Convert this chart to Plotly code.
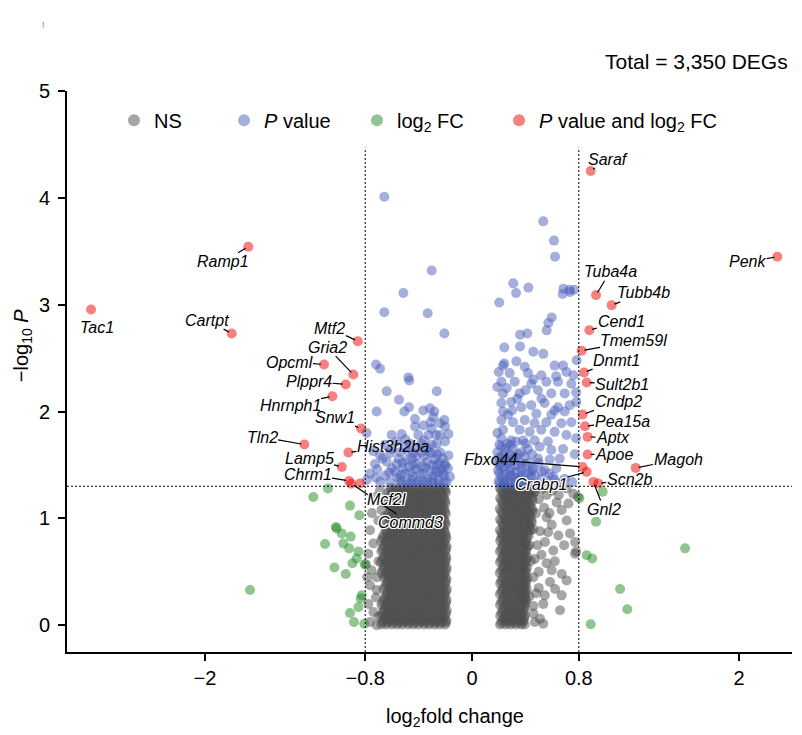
import math
import plotly.graph_objects as go

FONT = "Liberation Sans, Arial, Helvetica, sans-serif"

# ---------------- thresholds ----------------
fc_cut = 0.8
p_cut = 0.05
total_degs = "3,350"

# ---------------- NS genes (grey) : dense cores read row by row ----------------
ns_rows_left = [
    (1.285, [-0.612, -0.571, -0.533, -0.488, -0.452, -0.409, -0.372, -0.331, -0.289, -0.252, -0.208]),
    (1.262, [-0.600, -0.561, -0.519, -0.480, -0.441, -0.399, -0.360, -0.320, -0.281, -0.239, -0.200]),
    (1.240, [-0.628, -0.590, -0.548, -0.511, -0.469, -0.431, -0.392, -0.350, -0.309, -0.271, -0.229, -0.196]),
    (1.215, [-0.620, -0.579, -0.541, -0.500, -0.459, -0.421, -0.380, -0.339, -0.301, -0.260, -0.219]),
    (1.190, [-0.605, -0.566, -0.527, -0.490, -0.448, -0.411, -0.369, -0.330, -0.292, -0.249, -0.212]),
    (1.165, [-0.598, -0.559, -0.521, -0.478, -0.440, -0.401, -0.358, -0.321, -0.279, -0.241, -0.201]),
    (1.140, [-0.631, -0.588, -0.552, -0.509, -0.472, -0.428, -0.389, -0.352, -0.311, -0.268, -0.231, -0.199]),
    (1.115, [-0.619, -0.581, -0.539, -0.501, -0.461, -0.419, -0.381, -0.341, -0.299, -0.261, -0.221]),
    (1.090, [-0.609, -0.570, -0.529, -0.492, -0.451, -0.408, -0.371, -0.329, -0.290, -0.251, -0.209]),
    (1.065, [-0.601, -0.560, -0.520, -0.481, -0.439, -0.400, -0.361, -0.319, -0.280, -0.240, -0.202]),
    (1.040, [-0.627, -0.592, -0.549, -0.508, -0.470, -0.432, -0.390, -0.348, -0.312, -0.270, -0.228, -0.197]),
    (1.015, [-0.621, -0.580, -0.540, -0.499, -0.460, -0.420, -0.379, -0.340, -0.300, -0.259, -0.220]),
    (0.990, [-0.614, -0.568, -0.531, -0.489, -0.449, -0.412, -0.368, -0.332, -0.288, -0.250, -0.211]),
    (0.965, [-0.599, -0.562, -0.518, -0.479, -0.442, -0.398, -0.359, -0.321, -0.282, -0.238, -0.199]),
    (0.940, [-0.633, -0.589, -0.551, -0.512, -0.468, -0.429, -0.391, -0.351, -0.309, -0.272, -0.230, -0.198]),
    (0.915, [-0.618, -0.578, -0.542, -0.501, -0.458, -0.422, -0.379, -0.338, -0.302, -0.259, -0.218]),
    (0.890, [-0.648, -0.608, -0.569, -0.530, -0.491, -0.450, -0.410, -0.370, -0.331, -0.291, -0.249, -0.210]),
    (0.865, [-0.640, -0.599, -0.560, -0.520, -0.480, -0.440, -0.400, -0.361, -0.320, -0.280, -0.240, -0.201]),
    (0.840, [-0.664, -0.628, -0.590, -0.549, -0.510, -0.471, -0.428, -0.392, -0.349, -0.311, -0.268, -0.231, -0.196]),
    (0.815, [-0.670, -0.630, -0.589, -0.551, -0.510, -0.470, -0.431, -0.389, -0.350, -0.311, -0.270, -0.229, -0.192]),
    (0.790, [-0.681, -0.641, -0.602, -0.560, -0.522, -0.480, -0.441, -0.402, -0.360, -0.321, -0.282, -0.240, -0.203]),
    (0.765, [-0.650, -0.611, -0.570, -0.529, -0.491, -0.450, -0.409, -0.371, -0.330, -0.289, -0.251, -0.210]),
    (0.740, [-0.662, -0.619, -0.581, -0.541, -0.500, -0.462, -0.420, -0.381, -0.342, -0.300, -0.261, -0.222, -0.191]),
    (0.715, [-0.671, -0.629, -0.590, -0.550, -0.511, -0.469, -0.430, -0.390, -0.351, -0.310, -0.269, -0.230, -0.193]),
    (0.690, [-0.679, -0.638, -0.601, -0.558, -0.519, -0.481, -0.439, -0.400, -0.361, -0.319, -0.280, -0.241, -0.202]),
    (0.665, [-0.649, -0.610, -0.571, -0.530, -0.489, -0.451, -0.410, -0.369, -0.331, -0.290, -0.250, -0.211]),
    (0.640, [-0.660, -0.622, -0.579, -0.542, -0.498, -0.460, -0.421, -0.379, -0.340, -0.302, -0.259, -0.220, -0.193]),
    (0.615, [-0.669, -0.631, -0.588, -0.549, -0.509, -0.471, -0.429, -0.391, -0.349, -0.309, -0.271, -0.228, -0.194]),
    (0.590, [-0.683, -0.640, -0.599, -0.561, -0.520, -0.479, -0.442, -0.399, -0.362, -0.320, -0.279, -0.242, -0.201]),
    (0.565, [-0.651, -0.609, -0.569, -0.531, -0.490, -0.449, -0.411, -0.370, -0.329, -0.291, -0.249, -0.209]),
    (0.540, [-0.661, -0.620, -0.582, -0.539, -0.501, -0.459, -0.419, -0.382, -0.339, -0.299, -0.262, -0.219, -0.190]),
    (0.515, [-0.670, -0.629, -0.591, -0.550, -0.509, -0.470, -0.430, -0.390, -0.350, -0.310, -0.270, -0.231, -0.193]),
    (0.490, [-0.678, -0.642, -0.600, -0.559, -0.521, -0.482, -0.440, -0.401, -0.359, -0.322, -0.281, -0.239, -0.204]),
    (0.465, [-0.649, -0.611, -0.570, -0.530, -0.491, -0.451, -0.409, -0.371, -0.330, -0.289, -0.250, -0.210]),
    (0.440, [-0.659, -0.621, -0.580, -0.540, -0.499, -0.461, -0.422, -0.380, -0.341, -0.298, -0.260, -0.221, -0.192]),
    (0.415, [-0.630, -0.590, -0.551, -0.511, -0.470, -0.429, -0.391, -0.350, -0.311, -0.269, -0.230, -0.194]),
    (0.390, [-0.639, -0.598, -0.562, -0.518, -0.478, -0.441, -0.398, -0.360, -0.321, -0.278, -0.240, -0.200]),
    (0.365, [-0.650, -0.609, -0.571, -0.529, -0.490, -0.450, -0.410, -0.370, -0.329, -0.290, -0.251, -0.211]),
    (0.340, [-0.663, -0.618, -0.581, -0.538, -0.502, -0.458, -0.420, -0.379, -0.342, -0.301, -0.259, -0.222, -0.189]),
    (0.315, [-0.631, -0.590, -0.549, -0.510, -0.471, -0.430, -0.389, -0.351, -0.310, -0.270, -0.229, -0.195]),
    (0.290, [-0.641, -0.601, -0.558, -0.519, -0.480, -0.439, -0.402, -0.358, -0.320, -0.282, -0.238, -0.203]),
    (0.265, [-0.649, -0.610, -0.569, -0.531, -0.489, -0.450, -0.411, -0.369, -0.330, -0.291, -0.249, -0.210]),
    (0.240, [-0.658, -0.622, -0.579, -0.541, -0.500, -0.462, -0.418, -0.381, -0.339, -0.300, -0.261, -0.220, -0.191]),
    (0.215, [-0.670, -0.630, -0.590, -0.549, -0.511, -0.470, -0.429, -0.390, -0.351, -0.309, -0.270, -0.230, -0.194]),
    (0.190, [-0.679, -0.640, -0.602, -0.560, -0.521, -0.479, -0.442, -0.400, -0.361, -0.318, -0.280, -0.241, -0.201]),
    (0.165, [-0.651, -0.609, -0.571, -0.529, -0.490, -0.451, -0.409, -0.371, -0.329, -0.290, -0.250, -0.209]),
    (0.140, [-0.661, -0.619, -0.582, -0.539, -0.498, -0.460, -0.421, -0.382, -0.340, -0.302, -0.258, -0.221, -0.190]),
    (0.115, [-0.669, -0.630, -0.589, -0.551, -0.509, -0.469, -0.431, -0.389, -0.350, -0.311, -0.269, -0.229, -0.193]),
    (0.090, [-0.680, -0.638, -0.600, -0.561, -0.520, -0.481, -0.440, -0.399, -0.362, -0.319, -0.281, -0.239, -0.202]),
    (0.068, [-0.650, -0.610, -0.570, -0.530, -0.490, -0.449, -0.410, -0.370, -0.330, -0.289, -0.251, -0.211]),
    (0.045, [-0.662, -0.621, -0.580, -0.542, -0.499, -0.459, -0.420, -0.380, -0.341, -0.299, -0.260, -0.222, -0.192]),
    (0.026, [-0.671, -0.631, -0.590, -0.550, -0.510, -0.471, -0.430, -0.391, -0.350, -0.310, -0.270, -0.231, -0.195]),
    (0.008, [-0.679, -0.641, -0.599, -0.559, -0.522, -0.478, -0.441, -0.401, -0.359, -0.321, -0.279, -0.240, -0.201]),
]

ns_rows_right = [
    (1.285, [0.209, 0.249, 0.290, 0.331, 0.369, 0.410, 0.448]),
    (1.262, [0.219, 0.259, 0.300, 0.340, 0.380, 0.420, 0.455]),
    (1.240, [0.228, 0.270, 0.309, 0.350, 0.391, 0.430, 0.462]),
    (1.215, [0.238, 0.279, 0.320, 0.360, 0.399, 0.438]),
    (1.190, [0.211, 0.250, 0.288, 0.329, 0.371, 0.409, 0.451]),
    (1.165, [0.220, 0.260, 0.299, 0.341, 0.381, 0.419, 0.454]),
    (1.140, [0.230, 0.268, 0.311, 0.349, 0.390, 0.428]),
    (1.115, [0.239, 0.280, 0.319, 0.361, 0.400, 0.437]),
    (1.090, [0.208, 0.251, 0.291, 0.330, 0.368, 0.411, 0.449]),
    (1.065, [0.219, 0.261, 0.301, 0.339, 0.379, 0.421, 0.452]),
    (1.040, [0.229, 0.269, 0.308, 0.351, 0.389, 0.431]),
    (1.015, [0.240, 0.279, 0.321, 0.359, 0.401, 0.436]),
    (0.990, [0.210, 0.248, 0.289, 0.332, 0.370, 0.408, 0.446]),
    (0.965, [0.221, 0.259, 0.300, 0.340, 0.381, 0.420, 0.447]),
    (0.940, [0.231, 0.270, 0.310, 0.348, 0.392, 0.429]),
    (0.915, [0.239, 0.281, 0.320, 0.359, 0.399, 0.432]),
    (0.890, [0.209, 0.250, 0.291, 0.329, 0.369, 0.412, 0.440]),
    (0.865, [0.220, 0.259, 0.301, 0.341, 0.380, 0.418]),
    (0.840, [0.228, 0.271, 0.309, 0.350, 0.388, 0.425]),
    (0.815, [0.219, 0.260, 0.299, 0.341, 0.379, 0.410]),
    (0.790, [0.211, 0.249, 0.288, 0.331, 0.371, 0.405]),
    (0.765, [0.239, 0.280, 0.319, 0.360, 0.396]),
    (0.740, [0.230, 0.269, 0.311, 0.349, 0.390, 0.418]),
    (0.715, [0.220, 0.259, 0.300, 0.340, 0.381, 0.408]),
    (0.690, [0.209, 0.251, 0.290, 0.330, 0.369, 0.402]),
    (0.665, [0.240, 0.281, 0.320, 0.359, 0.397]),
    (0.640, [0.229, 0.268, 0.309, 0.351, 0.389, 0.415]),
    (0.615, [0.219, 0.260, 0.299, 0.339, 0.380, 0.405]),
    (0.590, [0.210, 0.250, 0.289, 0.328, 0.370, 0.403]),
    (0.565, [0.239, 0.279, 0.321, 0.360, 0.395]),
    (0.540, [0.231, 0.270, 0.310, 0.349, 0.387, 0.412]),
    (0.515, [0.220, 0.261, 0.300, 0.341, 0.379, 0.404]),
    (0.490, [0.208, 0.249, 0.291, 0.331, 0.368, 0.401]),
    (0.465, [0.240, 0.280, 0.319, 0.361, 0.396]),
    (0.440, [0.230, 0.269, 0.308, 0.350, 0.390, 0.414]),
    (0.415, [0.219, 0.259, 0.301, 0.340, 0.380, 0.403]),
    (0.390, [0.211, 0.251, 0.290, 0.329, 0.371, 0.404]),
    (0.365, [0.239, 0.280, 0.320, 0.359, 0.394]),
    (0.340, [0.228, 0.270, 0.311, 0.348, 0.388, 0.410]),
    (0.315, [0.220, 0.260, 0.299, 0.341, 0.379, 0.401]),
    (0.290, [0.209, 0.248, 0.289, 0.332, 0.369, 0.399]),
    (0.265, [0.240, 0.279, 0.320, 0.360, 0.393]),
    (0.240, [0.229, 0.271, 0.309, 0.350, 0.391, 0.408]),
    (0.215, [0.219, 0.261, 0.300, 0.339, 0.380, 0.400]),
    (0.190, [0.210, 0.250, 0.290, 0.330, 0.370, 0.398]),
    (0.165, [0.239, 0.280, 0.321, 0.361, 0.392]),
    (0.140, [0.230, 0.269, 0.310, 0.349, 0.389]),
    (0.115, [0.220, 0.259, 0.300, 0.340, 0.379]),
    (0.090, [0.211, 0.249, 0.288, 0.331, 0.368, 0.397]),
    (0.068, [0.240, 0.279, 0.319, 0.360, 0.391]),
    (0.045, [0.229, 0.270, 0.311, 0.350, 0.386]),
    (0.026, [0.219, 0.260, 0.301, 0.340, 0.378]),
    (0.008, [0.210, 0.251, 0.290, 0.329, 0.370, 0.395]),
]

ns_fringe_x = [-0.764, -0.739, -0.777, -0.752, -0.714, -0.764, -0.714, -0.777, -0.739, -0.702,
               -0.764, -0.714, -0.689, -0.664, -0.677, -0.702, -0.720, -0.650, -0.700, -0.720,
               -0.795, -0.750, -0.660, -0.785,
               0.559, 0.634, 0.722, 0.672, 0.559, 0.709, 0.597, 0.647, 0.734, 0.772,
               0.547, 0.609, 0.772, 0.559, 0.597, 0.672, 0.709, 0.584, 0.622, 0.672,
               0.534, 0.659, 0.509, 0.534, 0.459, 0.780, 0.709, 0.759, 0.794, 0.470,
               0.500, 0.480, 0.460, 0.490, 0.470, 0.460, 0.480, 0.460, 0.470, 0.520,
               0.540, 0.510, 0.520, 0.500, 0.500, 0.600, 0.650, 0.570, 0.440, 0.430,
               0.545, 0.620, 0.580, 0.690, 0.430]
ns_fringe_y = [0.89, 0.765, 0.67, 0.515, 0.45, 0.375, 0.33, 0.20, 0.125, 0.08,
               0.03, 0.0, 1.26, 1.15, 1.08, 0.98, 1.20, 1.02, 0.60, 0.26,
               0.57, 1.05, 0.94, 0.45,
               1.22, 1.15, 1.14, 1.08, 1.01, 0.98, 0.94, 0.84, 0.86, 0.78,
               0.78, 0.70, 0.67, 0.58, 0.515, 0.48, 0.42, 0.405, 0.34, 0.28,
               0.20, 0.14, 0.06, 0.015, 0.11, 0.69, 1.28, 1.23, 1.20, 1.25,
               1.18, 1.05, 0.90, 0.75, 0.62, 0.45, 0.30, 0.18, 0.03, 1.27,
               1.10, 0.88, 0.66, 0.50, 0.35, 1.26, 1.22, 0.87, 0.60, 0.27,
               0.28, 0.60, 1.05, 0.75, 0.75]

# ---------------- P value only (blue) ----------------
pval_x = [
    -0.657, -0.302, -0.514, -0.657, -0.332, -0.207, -0.719, -0.689, -0.477, -0.470,
    -0.639, -0.264, -0.547, -0.714, -0.507, -0.472, -0.365, -0.315, -0.282, -0.427,
    -0.290, -0.207, -0.790, -0.602, -0.527, -0.427, -0.365, -0.302, -0.240, -0.202,
    -0.402, -0.327, -0.240, -0.177, -0.652, -0.564, -0.464, -0.264, -0.202, -0.689,
    -0.614, -0.539, -0.440, -0.377, -0.302, -0.240, -0.177, -0.727, -0.639, -0.564,
    -0.489, -0.414, -0.339, -0.264, -0.202, -0.764, -0.652, -0.577, -0.502, -0.440,
    -0.365, -0.290, -0.215, -0.165, -0.689, -0.614, -0.527, -0.464, -0.339, -0.252,
    -0.789, -0.400, -0.300, -0.190, -0.420, -0.350, -0.230, -0.470, -0.520, -0.600,
    -0.710, -0.330, -0.410, -0.500, -0.600, -0.740, -0.280, -0.450, -0.360, -0.220,
    -0.550, -0.670, -0.360, -0.500, -0.310, -0.270, -0.560, -0.720, -0.620, -0.180,
    -0.270,
    -0.210, -0.250, -0.290, -0.330, -0.370, -0.410, -0.450, -0.490, -0.540,
    -0.210, -0.250, -0.310, -0.390, -0.460, -0.530,
    -0.200, -0.245, -0.300, -0.370, -0.440, -0.520,
    -0.260, -0.320, -0.420, -0.480, -0.300, -0.380,
    0.534, 0.614, 0.622, 0.309, 0.330, 0.422, 0.204, 0.684, 0.729, 0.766,
    0.679, 0.735, 0.597, 0.572, 0.559, 0.360, 0.414, 0.360, 0.242, 0.459,
    0.534, 0.784, 0.242, 0.332, 0.232, 0.395, 0.619, 0.682, 0.282, 0.419,
    0.519, 0.707, 0.220, 0.320, 0.444, 0.557, 0.644, 0.744, 0.232, 0.357,
    0.494, 0.594, 0.694, 0.220, 0.294, 0.369, 0.444, 0.544, 0.644, 0.732,
    0.782, 0.232, 0.482, 0.594, 0.694, 0.220, 0.307, 0.395, 0.469, 0.557,
    0.669, 0.744, 0.232, 0.357, 0.432, 0.519, 0.619, 0.707, 0.220, 0.294,
    0.382, 0.469, 0.569, 0.220, 0.307, 0.419, 0.507, 0.594, 0.682, 0.220,
    0.307, 0.395, 0.494, 0.582, 0.657, 0.220, 0.294, 0.369, 0.457, 0.544,
    0.632, 0.220, 0.294, 0.369, 0.444, 0.519, 0.607, 0.694, 0.232, 0.320,
    0.407, 0.494, 0.195, 0.260, 0.260, 0.330, 0.345, 0.190, 0.265, 0.200,
    0.280, 0.240, 0.190, 0.350, 0.430, 0.400, 0.250, 0.190, 0.270, 0.340,
    0.260, 0.500, 0.580, 0.660, 0.750, 0.770, 0.780, 0.620, 0.520, 0.460,
    0.400, 0.300, 0.190, 0.200, 0.630, 0.760, 0.780,
    0.205, 0.245, 0.285, 0.325, 0.365, 0.405, 0.445,
    0.205, 0.245, 0.285, 0.325, 0.365, 0.405, 0.450,
    0.205, 0.245, 0.285, 0.325, 0.365, 0.430, 0.470,
    0.205, 0.245, 0.285, 0.325, 0.370, 0.450, 0.520,
    0.205, 0.250, 0.290, 0.330, 0.400, 0.560, 0.620,
]
pval_y = [
    4.01, 3.32, 3.11, 2.93, 2.92, 2.73, 2.44, 2.40, 2.32, 2.29,
    2.19, 2.19, 2.11, 2.00, 2.00, 2.04, 2.01, 2.03, 2.00, 1.93,
    1.95, 1.92, 1.80, 1.78, 1.79, 1.86, 1.87, 1.84, 1.89, 1.86,
    1.78, 1.78, 1.78, 1.79, 1.69, 1.72, 1.70, 1.70, 1.72, 1.59,
    1.61, 1.62, 1.61, 1.62, 1.61, 1.62, 1.59, 1.51, 1.53, 1.51,
    1.545, 1.51, 1.53, 1.50, 1.51, 1.42, 1.40, 1.435, 1.42, 1.39,
    1.42, 1.40, 1.42, 1.39, 1.34, 1.34, 1.34, 1.33, 1.34, 1.33,
    1.36, 1.35, 1.36, 1.34, 1.46, 1.47, 1.46, 1.48, 1.47, 1.47,
    1.46, 1.66, 1.66, 1.67, 1.65, 1.63, 1.55, 1.56, 1.58, 1.56,
    1.56, 1.56, 1.73, 1.74, 1.90, 1.44, 1.38, 1.38, 1.43, 1.47,
    1.78,
    1.33, 1.36, 1.33, 1.37, 1.34, 1.33, 1.36, 1.34, 1.36,
    1.40, 1.43, 1.45, 1.42, 1.43, 1.41,
    1.49, 1.52, 1.50, 1.49, 1.50, 1.52,
    1.60, 1.62, 1.58, 1.63, 1.69, 1.70,
    3.78, 3.60, 3.45, 3.20, 3.11, 3.16, 3.02, 3.15, 3.14, 3.14,
    3.10, 3.12, 2.88, 2.83, 2.76, 2.72, 2.73, 2.61, 2.60, 2.56,
    2.54, 2.48, 2.45, 2.47, 2.43, 2.42, 2.43, 2.43, 2.36, 2.36,
    2.34, 2.37, 2.28, 2.28, 2.26, 2.28, 2.28, 2.26, 2.17, 2.17,
    2.20, 2.17, 2.17, 2.08, 2.09, 2.04, 2.06, 2.08, 2.04, 2.06,
    2.09, 2.00, 1.98, 1.97, 2.00, 1.92, 1.90, 1.92, 1.89, 1.90,
    1.89, 1.90, 1.83, 1.83, 1.81, 1.83, 1.81, 1.78, 1.75, 1.73,
    1.73, 1.73, 1.72, 1.67, 1.65, 1.65, 1.67, 1.64, 1.65, 1.58,
    1.56, 1.58, 1.56, 1.55, 1.56, 1.48, 1.47, 1.48, 1.47, 1.45,
    1.47, 1.39, 1.40, 1.39, 1.39, 1.37, 1.39, 1.37, 1.31, 1.31,
    1.31, 1.31, 1.45, 1.52, 1.36, 1.43, 1.60, 1.62, 1.70, 1.35,
    1.44, 1.34, 1.53, 1.36, 1.43, 1.51, 1.61, 1.80, 1.97, 2.12,
    2.22, 1.52, 1.42, 1.33, 1.34, 1.60, 1.75, 2.01, 2.12, 2.30,
    2.20, 2.01, 2.23, 2.37, 2.33, 2.34, 2.18,
    1.33, 1.32, 1.33, 1.34, 1.33, 1.35, 1.33,
    1.42, 1.41, 1.40, 1.38, 1.44, 1.42, 1.45,
    1.50, 1.48, 1.53, 1.50, 1.52, 1.52, 1.40,
    1.57, 1.55, 1.60, 1.57, 1.62, 1.60, 1.44,
    1.69, 1.66, 1.69, 1.72, 1.70, 1.35, 1.36,
]

# ---------------- log2 FC only (green) ----------------
fc_x = [-1.079, -1.189, -0.914, -0.844, -1.014, -1.020, -0.976, -0.909, -1.101, -0.964,
        -0.921, -0.851, -0.864, -0.896, -1.031, -0.946, -1.663, -0.826, -0.834, -0.851,
        -0.914, -0.884, -0.807, -0.803,
        0.979, 0.804, 0.929, 1.596, 0.859, 0.901, 1.109, 1.163, 0.889]
fc_y = [1.28, 1.20, 1.12, 1.03, 0.905, 0.92, 0.86, 0.83, 0.76, 0.765,
        0.72, 0.69, 0.625, 0.58, 0.54, 0.48, 0.33, 0.28, 0.25, 0.17,
        0.115, 0.03, 0.015, 0.57,
        1.25, 1.19, 0.97, 0.72, 0.655, 0.625, 0.34, 0.15, 0.01]

# ---------------- P value and log2 FC (red), all labelled ----------------
genes = ["Tac1", "Ramp1", "Cartpt", "Mtf2", "Gria2", "Opcml", "Plppr4", "Hnrnph1",
         "Snw1", "Tln2", "Hist3h2ba", "Lamp5", "Chrm1", "Commd3", "Mcf2l",
         "Saraf", "Penk", "Tuba4a", "Tubb4b", "Cend1", "Tmem59l", "Dnmt1", "Sult2b1",
         "Cndp2", "Pea15a", "Aptx", "Apoe", "Magoh", "Fbxo44", "Crabp1", "Scn2b", "Gnl2"]
both_x = [-2.854, -1.676, -1.800, -0.856, -0.889, -1.109, -0.946, -1.046,
          -0.831, -1.256, -0.926, -0.976, -0.921, -0.905, -0.839,
          0.889, 2.287, 0.929, 1.046, 0.879, 0.821, 0.839, 0.859,
          0.829, 0.846, 0.866, 0.866, 1.226, 0.829, 0.859, 0.946, 0.909]
both_y = [2.956, 3.542, 2.731, 2.659, 2.347, 2.441, 2.254, 2.144,
          1.841, 1.692, 1.617, 1.482, 1.351, 1.325, 1.327,
          4.251, 3.449, 3.090, 2.996, 2.762, 2.569, 2.366, 2.272,
          1.973, 1.863, 1.763, 1.598, 1.473, 1.482, 1.436, 1.327, 1.342]

# ---------------- label placement (layout, data units) ----------------
label_x = [-2.811, -1.869, -1.987, -1.064, -1.086, -1.371, -1.221, -1.363,
           -1.030, -1.573, -0.592, -1.221, -1.232, -0.464, -0.639,
           1.015, 2.065, 1.034, 1.288, 1.116, 1.213, 1.079, 1.124,
           1.094, 1.124, 1.056, 1.064, 1.543, 0.135, 0.517, 1.176, 0.989]
label_y = [2.784, 3.402, 2.856, 2.781, 2.603, 2.463, 2.285, 2.060,
           1.941, 1.760, 1.676, 1.561, 1.414, 0.958, 1.177,
           4.363, 3.402, 3.308, 3.111, 2.846, 2.662, 2.481, 2.257,
           2.091, 1.904, 1.757, 1.601, 1.551, 1.551, 1.320, 1.367, 1.083]
no_segment = {"Tac1", "Mcf2l"}
halo = {"Commd3", "Mcf2l", "Crabp1"}

# ---------------- build point arrays ----------------
ns_x, ns_y = [], []
for yy, xs in ns_rows_left + ns_rows_right:
    ns_x += xs
    ns_y += [yy] * len(xs)
ns_x += ns_fringe_x
ns_y += ns_fringe_y

COL_NS = "rgba(77,77,77,0.5)"
COL_P = "rgba(75,95,185,0.5)"
COL_FC = "rgba(34,139,34,0.5)"
COL_BOTH = "rgba(238,0,0,0.5)"
MS = 10

fig = go.Figure()
fig.add_trace(go.Scatter(x=ns_x, y=ns_y, mode="markers", name="NS", legend="legend",
                         marker=dict(color=COL_NS, size=MS, line=dict(width=0))))
fig.add_trace(go.Scatter(x=fc_x, y=fc_y, mode="markers", name="log<sub>2</sub> FC", legend="legend3",
                         marker=dict(color=COL_FC, size=MS, line=dict(width=0))))
fig.add_trace(go.Scatter(x=pval_x, y=pval_y, mode="markers", name="<i>P</i> value", legend="legend2",
                         marker=dict(color=COL_P, size=MS, line=dict(width=0))))
fig.add_trace(go.Scatter(x=both_x, y=both_y, mode="markers", text=genes, legend="legend4",
                         name="<i>P</i> value and log<sub>2</sub> FC",
                         marker=dict(color=COL_BOTH, size=MS, line=dict(width=0))))

p_line = -math.log10(p_cut)
DASH = dict(color="black", width=1, dash="2px,2px")
shapes = [
    dict(type="line", xref="paper", yref="y", x0=0, x1=1, y0=p_line, y1=p_line, line=DASH),
    dict(type="line", xref="x", yref="y", x0=-fc_cut, x1=-fc_cut, y0=-0.25, y1=4.47, line=DASH),
    dict(type="line", xref="x", yref="y", x0=fc_cut, x1=fc_cut, y0=-0.25, y1=4.47, line=DASH),
]

HALO = ("1px 1px 0px white, -1px -1px 0px white, 1px -1px 0px white, -1px 1px 0px white, "
        "0px 1px 0px white, 0px -1px 0px white, 1px 0px 0px white, -1px 0px 0px white")
annotations = []
for g, px_, py_, lx, ly in zip(genes, both_x, both_y, label_x, label_y):
    f = dict(family=FONT, size=16, color="black", style="italic")
    if g in halo:
        f["shadow"] = HALO
    if g in no_segment:
        annotations.append(dict(x=lx, y=ly, xref="x", yref="y", text=g, showarrow=False,
                                font=f, borderpad=0))
    else:
        annotations.append(dict(x=px_, y=py_, xref="x", yref="y", ax=lx, ay=ly, axref="x", ayref="y",
                                text=g, showarrow=True, arrowhead=0, arrowwidth=1.2, arrowcolor="black",
                                standoff=3, font=f, borderpad=0))

annotations += [
    dict(text="Total = " + total_degs + " DEGs", xref="paper", yref="paper", x=0.9972, y=1.0517,
         xanchor="right", yanchor="middle", showarrow=False, font=dict(family=FONT, size=21, color="black")),
    dict(text="log<sub>2</sub>fold change", xref="paper", yref="paper", x=0.535, y=-0.117,
         xanchor="center", yanchor="middle", showarrow=False, font=dict(family=FONT, size=20, color="black")),
    dict(text="\u2212log<sub>10</sub> <i>P</i>", xref="paper", yref="paper", x=-0.062, y=0.547,
         xanchor="center", yanchor="middle", textangle=-90, showarrow=False,
         font=dict(family=FONT, size=20, color="black")),
    # small stray mark visible at the top-left corner of the reference
    dict(text="!", xref="paper", yref="paper", x=-0.0331, y=1.1176,
         xanchor="center", yanchor="middle", showarrow=False,
         font=dict(family=FONT, size=9, color="#777777")),
]

leg = dict(orientation="h", yanchor="middle", y=0.948, xanchor="left",
           font=dict(family=FONT, size=20, color="black"), bgcolor="rgba(0,0,0,0)",
           itemsizing="constant")

x_ticks = [-2, -0.8, 0, 0.8, 2]
x_ticktext = ["\u22122", "\u22120.8", "0", "0.8", "2"]
y_ticks = [0, 1, 2, 3, 4, 5]

# the page body keeps its default 8px margin, so the figure is 8px smaller
fig.update_layout(
    width=794, height=727,
    margin=dict(l=59, r=10, t=83, b=83),
    paper_bgcolor="white", plot_bgcolor="white",
    font=dict(family=FONT, size=20, color="black"),
    showlegend=True,
    legend=dict(x=0.0648, **leg),
    legend2=dict(x=0.2166, **leg),
    legend3=dict(x=0.400, **leg),
    legend4=dict(x=0.5959, **leg),
    shapes=shapes,
    annotations=annotations,
    xaxis=dict(range=[-3.034, 2.397], tickvals=x_ticks, ticktext=x_ticktext,
               showline=True, linecolor="black", linewidth=2, ticks="outside", ticklen=7,
               tickwidth=1.5, tickcolor="black", showgrid=False, zeroline=False,
               tickfont=dict(family=FONT, size=20, color="black")),
    yaxis=dict(range=[-0.25, 5.0], tickvals=y_ticks, ticktext=[str(v) for v in y_ticks],
               showline=True, linecolor="black", linewidth=2, ticks="outside", ticklen=7,
               tickwidth=1.5, tickcolor="black", showgrid=False, zeroline=False,
               ticklabelstandoff=4,
               tickfont=dict(family=FONT, size=20, color="black")),
)

fig.write_html("out.html")
